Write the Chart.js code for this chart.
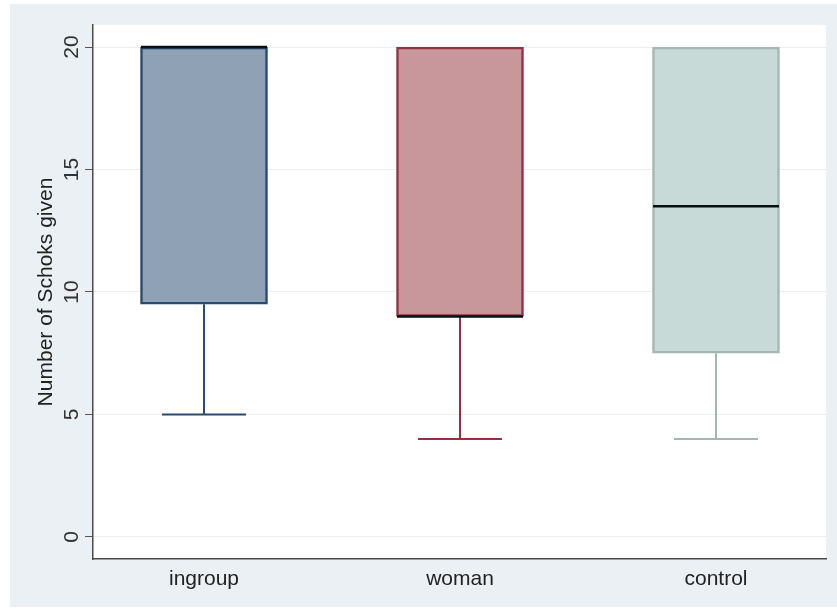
<!DOCTYPE html>
<html>
<head>
<meta charset="utf-8">
<script src="https://cdn.jsdelivr.net/npm/chart.js@4/dist/chart.umd.min.js"></script>
<style>
html,body{margin:0;padding:0;background:#ffffff;}
canvas{display:block;}
</style>
</head>
<body>
<canvas id="c" width="837" height="609"></canvas>
<script>
// ---- data ----
const categories = ["ingroup", "woman", "control"];
const q1Values = [9.5, 9, 7.5];
const medianValues = [20, 9, 13.5];
const q3Values = [20, 20, 20];
const lowerWhisker = [5, 4, 4];
const upperWhisker = [20, 20, 20];
const yTickValues = [0, 5, 10, 15, 20];
const yTitle = "Number of Schoks given";

// ---- styles ----
const fillColors = ["rgb(142,161,181)", "rgb(200,151,156)", "rgb(200,218,216)"];
const lineColors = ["rgb(40,74,108)", "rgb(146,50,64)", "rgb(163,184,179)"];
const FONT = "'Liberation Sans', Arial, sans-serif";

const boxData = categories.map((c, i) => ({ x: i + 1, y: [q1Values[i], q3Values[i]] }));

const bgPlugin = {
  id: 'bg',
  beforeDraw(chart) {
    const ctx = chart.ctx, a = chart.chartArea;
    ctx.save();
    ctx.fillStyle = 'rgb(234,240,243)';
    ctx.fillRect(10, 4, chart.width - 10, 603);
    ctx.fillStyle = '#ffffff';
    ctx.fillRect(a.left, a.top, a.right - a.left, a.bottom - a.top);
    ctx.restore();
  }
};

const boxPlugin = {
  id: 'boxparts',
  afterDatasetsDraw(chart) {
    const ctx = chart.ctx, xs = chart.scales.x, ys = chart.scales.y;
    const half = 126 / 2, capHalf = 42;
    ctx.save();
    categories.forEach((c, i) => {
      const cx = xs.getPixelForValue(i + 1);
      ctx.strokeStyle = lineColors[i];
      ctx.lineWidth = 2;
      ctx.beginPath();
      ctx.moveTo(cx, ys.getPixelForValue(q1Values[i]));
      ctx.lineTo(cx, ys.getPixelForValue(lowerWhisker[i]));
      ctx.stroke();
      ctx.beginPath();
      ctx.moveTo(cx - capHalf, ys.getPixelForValue(lowerWhisker[i]));
      ctx.lineTo(cx + capHalf, ys.getPixelForValue(lowerWhisker[i]));
      ctx.stroke();
      if (upperWhisker[i] > q3Values[i]) {
        ctx.beginPath();
        ctx.moveTo(cx, ys.getPixelForValue(q3Values[i]));
        ctx.lineTo(cx, ys.getPixelForValue(upperWhisker[i]));
        ctx.stroke();
        ctx.beginPath();
        ctx.moveTo(cx - capHalf, ys.getPixelForValue(upperWhisker[i]));
        ctx.lineTo(cx + capHalf, ys.getPixelForValue(upperWhisker[i]));
        ctx.stroke();
      }
      ctx.strokeStyle = '#0b0f12';
      ctx.lineWidth = 2.6;
      const my = ys.getPixelForValue(medianValues[i]);
      ctx.beginPath();
      ctx.moveTo(cx - half, my);
      ctx.lineTo(cx + half, my);
      ctx.stroke();
    });
    ctx.fillStyle = '#333333';
    ctx.font = "21px " + FONT;
    ctx.textAlign = 'center';
    ctx.textBaseline = 'middle';
    yTickValues.forEach(v => {
      const py = ys.getPixelForValue(v);
      ctx.save();
      ctx.translate(72, py);
      ctx.rotate(-Math.PI / 2);
      ctx.fillText(String(v), 0, 0);
      ctx.restore();
    });
    ctx.restore();
  }
};

new Chart(document.getElementById('c'), {
  type: 'bar',
  data: {
    datasets: [{
      data: boxData,
      backgroundColor: fillColors,
      borderColor: lineColors,
      borderWidth: 2.5,
      borderSkipped: false,
      barThickness: 127
    }]
  },
  options: {
    responsive: false,
    animation: false,
    devicePixelRatio: 1,
    layout: { padding: { left: 0, top: 25, right: 11, bottom: 0 } },
    plugins: { legend: { display: false }, tooltip: { enabled: false } },
    scales: {
      x: {
        type: 'linear',
        offset: false,
        min: 0.5664,
        max: 3.4297,
        afterBuildTicks(scale) { scale.ticks = categories.map((c, i) => ({ value: i + 1 })); },
        ticks: {
          autoSkip: false,
          maxRotation: 0,
          padding: 8,
          color: '#222222',
          font: { family: FONT, size: 21 },
          callback(v) { return categories[Math.round(v) - 1]; }
        },
        grid: { display: false, drawTicks: false },
        border: { display: true, color: '#4a4a4a', width: 1.5 },
        afterFit(scale) { scale.height = 50; }
      },
      y: {
        type: 'linear',
        min: -0.9,
        max: 20.9,
        afterBuildTicks(scale) { scale.ticks = yTickValues.map(v => ({ value: v })); },
        ticks: { display: false },
        grid: { color: 'rgb(236,238,240)', lineWidth: 1, drawTicks: true, tickLength: 8, tickColor: '#555555' },
        border: { display: true, color: '#4a4a4a', width: 1.5 },
        title: {
          display: true,
          text: yTitle,
          color: '#222222',
          font: { family: FONT, size: 21 },
          padding: { top: 34, bottom: 0 }
        },
        afterFit(scale) { scale.width = 93; }
      }
    }
  },
  plugins: [bgPlugin, boxPlugin]
});
</script>
</body>
</html>
